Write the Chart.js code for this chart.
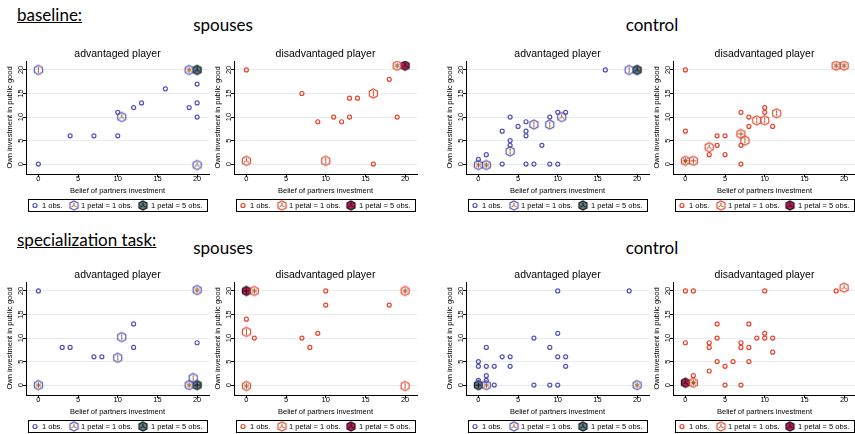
<!DOCTYPE html>
<html>
<head>
<meta charset="utf-8">
<script src="https://cdn.jsdelivr.net/npm/chart.js@4.4.1/dist/chart.umd.min.js"></script>
<style>
body { margin: 0; background: #fff; width: 855px; height: 434px; overflow: hidden; position: relative; }
.h { position: absolute; font-family: Lato, sans-serif; font-size: 17px; line-height: 1; white-space: nowrap; color: #000; }
.c { transform: translateX(-50%); }
canvas { position: absolute; }
</style>
</head>
<body>
<div class="h" style="left:17px;top:6px;text-decoration:underline">baseline:</div>
<div class="h c" style="left:223px;top:16px">spouses</div>
<div class="h c" style="left:652px;top:16px">control</div>
<div class="h" style="left:17px;top:231px;text-decoration:underline">specialization task:</div>
<div class="h c" style="left:223px;top:239px">spouses</div>
<div class="h c" style="left:652px;top:239px">control</div>

<canvas id="p1" width="215" height="175" style="left:0;top:40px"></canvas>
<canvas id="p2" width="215" height="175" style="left:208px;top:40px"></canvas>
<canvas id="p3" width="215" height="175" style="left:440px;top:40px"></canvas>
<canvas id="p4" width="215" height="175" style="left:647px;top:40px"></canvas>
<canvas id="p5" width="215" height="175" style="left:0;top:261px"></canvas>
<canvas id="p6" width="215" height="175" style="left:208px;top:261px"></canvas>
<canvas id="p7" width="215" height="175" style="left:440px;top:261px"></canvas>
<canvas id="p8" width="215" height="175" style="left:647px;top:261px"></canvas>

<script>
// tick values for both axes
const xTicks = [0, 5, 10, 15, 20];
const yTicks = [0, 5, 10, 15, 20];
const xLabel = 'Belief of partners investment';
const yLabel = 'Own investment in public good';
const legendLabels = ['1 obs.', '1 petal = 1 obs.', '1 petal = 5 obs.'];

// [belief, own]  ;  sunflowers: [belief, own, petals]
// baseline, spouses, advantaged
const bSpAdvSingle = [[0,0],[4,6],[7,6],[10,6],[10,11],[12,12],[13,13],[16,16],[19,12],[20,17],[20,13],[20,10]];
const bSpAdvLight = [[0,20,2],[10.5,10,3],[19,20,6],[20,-0.2,3]];
const bSpAdvDark = [[20,20,3]];
// baseline, spouses, disadvantaged
const bSpDisSingle = [[0,20],[7,15],[9,9],[11,10],[12,9],[13,10],[13,14],[14,14],[18,18],[19,10],[16,0]];
const bSpDisLight = [[0,0.7,3],[10,0.7,2],[16,15,2],[19,20.9,6]];
const bSpDisDark = [[20,20.9,3]];
// baseline, control, advantaged
const bCoAdvSingle = [[0,1],[1,2],[3,7],[3,0],[4,10],[4,5],[4,4],[5,8],[6,9],[6,7],[6,6],[6,0],[7,0],[8,4],[9,10],[9,0],[10,0],[10,11],[11,11],[16,20]];
const bCoAdvLight = [[0,-0.2,6],[1,-0.2,6],[4,2.7,2],[7,8.4,2],[9,8.4,2],[10.5,10,3],[19,20,2]];
const bCoAdvDark = [[20,20,3]];
// baseline, control, disadvantaged
const bCoDisSingle = [[0,20],[0,7],[3,2],[4,6],[4,4],[5,6],[5,2],[7,11],[7,4],[7,0],[8,10],[8,8],[10,12],[10,11],[11,8]];
const bCoDisLight = [[0,0.7,8],[1,0.7,4],[3,3.6,3],[7,6.4,4],[7.5,5,2],[9,9.3,2],[10,9.3,2],[11.5,10.8,2],[19,20.9,6],[20,20.9,6]];
const bCoDisDark = [];
// specialization, spouses, advantaged
const sSpAdvSingle = [[0,20],[3,8],[4,8],[7,6],[8,6],[12,13],[12,8],[20,9]];
const sSpAdvLight = [[0,0,6],[10.5,10.2,2],[10,5.8,2],[20,20.2,6],[19.5,1.5,2],[19,0,6]];
const sSpAdvDark = [[20,0,4]];
// specialization, spouses, disadvantaged
const sSpDisSingle = [[0,14],[1,10],[7,10],[8,8],[9,11],[10,20],[10,17],[18,17]];
const sSpDisLight = [[1,20,6],[0,11.3,2],[0,-0.2,6],[20,20,6],[20,-0.2,2]];
const sSpDisDark = [[0,20,4]];
// specialization, control, advantaged
const sCoAdvSingle = [[0,5],[0,4],[0,1],[1,8],[1,4],[1,2],[1,1],[2,4],[2,0],[3,6],[4,6],[4,4],[7,10],[7,0],[9,8],[9,0],[10,20],[10,11],[10,6],[10,0],[11,6],[11,4],[19,20]];
const sCoAdvLight = [[1,0,6],[20,0,6]];
const sCoAdvDark = [[0,0,4]];
// specialization, control, disadvantaged
const sCoDisSingle = [[0,20],[1,20],[10,20],[19,20],[0,9],[3,9],[3,8],[4,13],[4,10],[4,5],[3,3],[1,2],[5,4],[5,0],[6,5],[7,9],[7,8],[7,0],[8,13],[8,8],[8,5],[9,10],[10,11],[10,10],[11,10],[11,7]];
const sCoDisLight = [[20,20.7,3],[1,0.5,8]];
const sCoDisDark = [[0,0.5,3]];

const BLUE = '#5252b6';
const RED = '#e8432d';
const PETAL = '#a35a2a';
const FONT = '"Liberation Sans", Arial, sans-serif';

function sunflower(petals, edge, fill, petalColor) {
    const c = document.createElement('canvas');
    c.width = c.height = 13;
    const g = c.getContext('2d');
    const cx = 6.5, cy = 6.5, r = 4.7;
    g.beginPath();
    for (let k = 0; k < 6; k++) {
        const a = Math.PI / 2 + k * Math.PI / 3;
        const px = cx + r * Math.cos(a), py = cy - r * Math.sin(a);
        if (k) g.lineTo(px, py); else g.moveTo(px, py);
    }
    g.closePath();
    if (fill) { g.fillStyle = fill; g.fill(); }
    g.strokeStyle = edge;
    g.lineWidth = 1.1;
    g.stroke();
    g.strokeStyle = petalColor;
    g.lineWidth = 1;
    for (let k = 0; k < petals; k++) {
        const a = Math.PI / 2 + k * 2 * Math.PI / petals;
        g.beginPath();
        g.moveTo(cx, cy);
        g.lineTo(cx + 3 * Math.cos(a), cy - 3 * Math.sin(a));
        g.stroke();
    }
    return c;
}

function lightStyle(color, n) { return sunflower(n, color, null, PETAL); }
function darkStyle(color, n) {
    return sunflower(n, '#111', color === BLUE ? '#5d7f88' : '#c2175b', '#111');
}

const textPlugin = {
    id: 'panelText',
    afterDraw(chart) {
        const o = chart.options.plugins.panelText;
        const ctx = chart.ctx;
        const a = chart.chartArea;
        const xs = chart.scales.x, ys = chart.scales.y;
        const mid = (a.left + a.right) / 2;
        ctx.save();
        ctx.fillStyle = '#000';
        ctx.textAlign = 'center';
        ctx.textBaseline = 'middle';
        ctx.font = '10.5px ' + FONT;
        ctx.fillText(o.title, mid, a.top - 7);
        ctx.font = '7.5px ' + FONT;
        xTicks.forEach(v => ctx.fillText(String(v), xs.getPixelForValue(v), a.bottom + 4.5));
        ctx.fillText(xLabel, mid, a.bottom + 16.5);
        yTicks.forEach(v => {
            ctx.save();
            ctx.translate(a.left - 5.5, ys.getPixelForValue(v));
            ctx.rotate(-Math.PI / 2);
            ctx.fillText(String(v), 0, 0);
            ctx.restore();
        });
        ctx.save();
        ctx.translate(10, (a.top + a.bottom) / 2);
        ctx.rotate(-Math.PI / 2);
        ctx.fillText(yLabel, 0, 0);
        ctx.restore();

        // legend box
        const lx = a.left + 2, ly = 159;
        ctx.strokeStyle = '#000';
        ctx.lineWidth = 1;
        ctx.strokeRect(Math.round(lx) + 0.5, ly + 0.5, 179, 12);
        const cy = ly + 6.5;
        ctx.beginPath();
        ctx.arc(lx + 7, cy, 2, 0, Math.PI * 2);
        ctx.strokeStyle = o.color;
        ctx.lineWidth = 1.2;
        ctx.stroke();
        const l1 = lightStyle(o.color, 3), l2 = darkStyle(o.color, 3);
        ctx.drawImage(l1, lx + 46 - 6.5, cy - 6.5);
        ctx.drawImage(l2, lx + 115 - 6.5, cy - 6.5);
        ctx.textAlign = 'left';
        ctx.fillText(legendLabels[0], lx + 14, cy + 0.5);
        ctx.fillText(legendLabels[1], lx + 53, cy + 0.5);
        ctx.fillText(legendLabels[2], lx + 123, cy + 0.5);
        ctx.restore();
    }
};

function makePanel(id, color, title, single, light, dark) {
    new Chart(document.getElementById(id), {
        type: 'scatter',
        data: {
            datasets: [
                {
                    data: single.map(p => ({ x: p[0], y: p[1] })),
                    pointStyle: 'circle',
                    pointRadius: 2,
                    borderColor: color,
                    borderWidth: 1.2,
                    backgroundColor: 'rgba(0,0,0,0)'
                },
                {
                    data: light.map(p => ({ x: p[0], y: p[1] })),
                    pointStyle: light.map(p => lightStyle(color, p[2])),
                    pointRadius: 5
                },
                {
                    data: dark.map(p => ({ x: p[0], y: p[1] })),
                    pointStyle: dark.map(p => darkStyle(color, p[2])),
                    pointRadius: 5
                }
            ]
        },
        options: {
            responsive: false,
            animation: false,
            events: [],
            layout: { padding: { left: 0, right: 6, top: 21, bottom: 21 }, autoPadding: false },
            plugins: {
                legend: { display: false },
                tooltip: { enabled: false },
                panelText: { title: title, color: color }
            },
            scales: {
                x: {
                    type: 'linear', min: -1.56, max: 21.5,
                    afterBuildTicks: s => { s.ticks = xTicks.map(v => ({ value: v })); },
                    afterFit: s => { s.height = 20; },
                    ticks: { display: false },
                    grid: { drawOnChartArea: false, drawTicks: true, tickLength: 3, tickColor: '#000' },
                    border: { color: '#000', width: 1 }
                },
                y: {
                    type: 'linear', min: -2.1, max: 21.9,
                    afterBuildTicks: s => { s.ticks = yTicks.map(v => ({ value: v })); },
                    afterFit: s => { s.width = 26; },
                    ticks: { display: false },
                    grid: { color: '#e4edf0', tickLength: 3, tickColor: '#000' },
                    border: { color: '#000', width: 1 }
                }
            }
        },
        plugins: [textPlugin]
    });
}

makePanel('p1', BLUE, 'advantaged player', bSpAdvSingle, bSpAdvLight, bSpAdvDark);
makePanel('p2', RED, 'disadvantaged player', bSpDisSingle, bSpDisLight, bSpDisDark);
makePanel('p3', BLUE, 'advantaged player', bCoAdvSingle, bCoAdvLight, bCoAdvDark);
makePanel('p4', RED, 'disadvantaged player', bCoDisSingle, bCoDisLight, bCoDisDark);
makePanel('p5', BLUE, 'advantaged player', sSpAdvSingle, sSpAdvLight, sSpAdvDark);
makePanel('p6', RED, 'disadvantaged player', sSpDisSingle, sSpDisLight, sSpDisDark);
makePanel('p7', BLUE, 'advantaged player', sCoAdvSingle, sCoAdvLight, sCoAdvDark);
makePanel('p8', RED, 'disadvantaged player', sCoDisSingle, sCoDisLight, sCoDisDark);
</script>
</body>
</html>
